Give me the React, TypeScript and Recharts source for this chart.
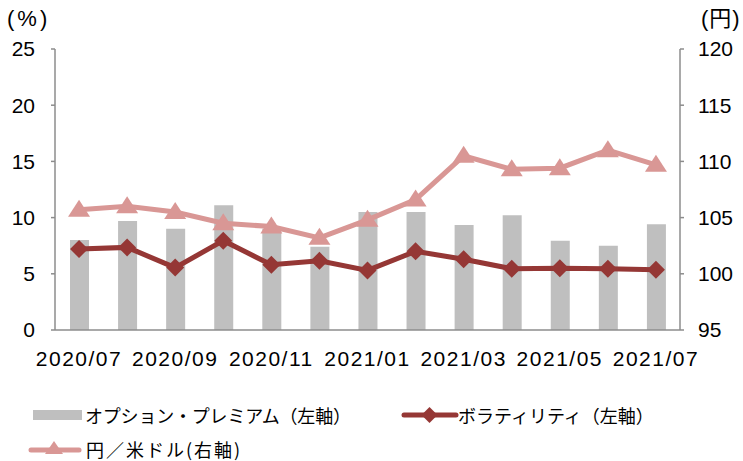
import React from "react";
import {
  ComposedChart,
  Bar,
  Line,
  XAxis,
  YAxis,
} from "recharts";

const months = [
  "2020/07", "2020/08", "2020/09", "2020/10", "2020/11", "2020/12", "2021/01",
  "2021/02", "2021/03", "2021/04", "2021/05", "2021/06", "2021/07",
];
const premium = [8.0, 9.7, 9.0, 11.1, 9.0, 7.4, 10.5, 10.5, 9.35, 10.2, 7.95, 7.5, 9.4];
const volatility = [7.2, 7.35, 5.55, 7.95, 5.8, 6.15, 5.3, 7.0, 6.3, 5.45, 5.5, 5.45, 5.35];
const usdJpy = [105.7, 106.0, 105.5, 104.5, 104.2, 103.2, 104.8, 106.6, 110.5, 109.3, 109.4, 111.0, 109.7];

const leftTicks = [0, 5, 10, 15, 20, 25];
const rightTicks = [95, 100, 105, 110, 115, 120];

const data = months.map((m, i) => ({
  month: m,
  premium: premium[i],
  volatility: volatility[i],
  usdJpy: usdJpy[i],
}));

const BAR = "#bfbfbf";
const VOL = "#953735";
const YEN = "#d99795";
const AXIS = "#8c8c8c";
const TICK = { fill: "#000", fontSize: 21, fontFamily: "Liberation Sans, Arial, sans-serif" };
const XTICK = { ...TICK, letterSpacing: 1.5 };
const JP = "'Noto Sans CJK JP', sans-serif";

const Diamond = (props: any) => {
  const { cx, cy } = props;
  if (cx == null || cy == null) return null;
  const r = 9;
  return (
    <path
      key={`d-${cx}`}
      d={`M${cx},${cy - r}L${cx + r},${cy}L${cx},${cy + r}L${cx - r},${cy}Z`}
      fill={VOL}
    />
  );
};

const Triangle = (props: any) => {
  const { cx, cy } = props;
  if (cx == null || cy == null) return null;
  return (
    <path
      key={`t-${cx}`}
      d={`M${cx},${cy - 10}L${cx + 11},${cy + 7}L${cx - 11},${cy + 7}Z`}
      fill={YEN}
    />
  );
};

const legendText: React.CSSProperties = {
  position: "absolute",
  fontFamily: JP,
  fontSize: 18,
  color: "#000",
  lineHeight: "21px",
  height: 21,
  width: 280,
  whiteSpace: "nowrap",
};

const titleText: React.CSSProperties = {
  position: "absolute",
  fontFamily: "'Liberation Sans', 'Noto Sans CJK JP', sans-serif",
  fontSize: 22,
  lineHeight: "26px",
  whiteSpace: "nowrap",
  color: "#000",
};

export default function App() {
  return (
    <div style={{ position: "fixed", left: 0, top: 0, width: 743, height: 461, background: "#fff", overflow: "hidden" }}>
      <ComposedChart
        width={743}
        height={461}
        data={data}
        margin={{ top: 49, right: 0, left: 0, bottom: 101 }}
      >
        <XAxis
          dataKey="month"
          interval={1}
          tickLine={false}
          tickMargin={15}
          height={30}
          tick={XTICK}
          axisLine={{ stroke: AXIS, strokeWidth: 1.5 }}
        />
        <YAxis
          yAxisId="left"
          domain={[0, 25]}
          ticks={leftTicks}
          width={55}
          tickSize={4}
          tickMargin={16}
          tick={TICK}
          tickLine={{ stroke: AXIS, strokeWidth: 1.5 }}
          axisLine={{ stroke: AXIS, strokeWidth: 1.5 }}
        />
        <YAxis
          yAxisId="right"
          orientation="right"
          domain={[95, 120]}
          ticks={rightTicks}
          width={63}
          tickSize={4}
          tickMargin={14}
          tick={TICK}
          tickLine={{ stroke: AXIS, strokeWidth: 1.5 }}
          axisLine={{ stroke: AXIS, strokeWidth: 1.5 }}
        />
        <Bar yAxisId="left" dataKey="premium" fill={BAR} barSize={19} isAnimationActive={false} />
        <Line
          yAxisId="left"
          dataKey="volatility"
          stroke={VOL}
          strokeWidth={5}
          dot={Diamond}
          activeDot={false}
          isAnimationActive={false}
        />
        <Line
          yAxisId="right"
          dataKey="usdJpy"
          stroke={YEN}
          strokeWidth={5}
          dot={Triangle}
          activeDot={false}
          isAnimationActive={false}
        />
      </ComposedChart>

      <div style={{ ...titleText, left: 7, top: 6, letterSpacing: 3 }}>(%)</div>
      <div style={{ ...titleText, left: 701, top: 6, letterSpacing: 1 }}>(円)</div>

      <svg style={{ position: "absolute", left: 0, top: 395 }} width={743} height={66}>
        <rect x={33} y={15} width={49} height={10} fill={BAR} />
        <line x1={404} y1={20} x2={456} y2={20} stroke={VOL} strokeWidth={5} strokeLinecap="round" />
        <path d="M429.5,12L437.5,20L429.5,28L421.5,20Z" fill={VOL} />
        <line x1={31} y1={55} x2={79} y2={55} stroke={YEN} strokeWidth={5} strokeLinecap="round" />
        <path d="M54,46L63,59L45,59Z" fill={YEN} />
      </svg>
      <div style={{ ...legendText, left: 85, top: 405, letterSpacing: -0.2 }}>オプション・プレミアム（左軸）</div>
      <div style={{ ...legendText, left: 458, top: 405, letterSpacing: 0 }}>ボラティリティ（左軸）</div>
      <div style={{ ...legendText, left: 86, top: 439, letterSpacing: 2 }}>円／米ドル(右軸)</div>
    </div>
  );
}
